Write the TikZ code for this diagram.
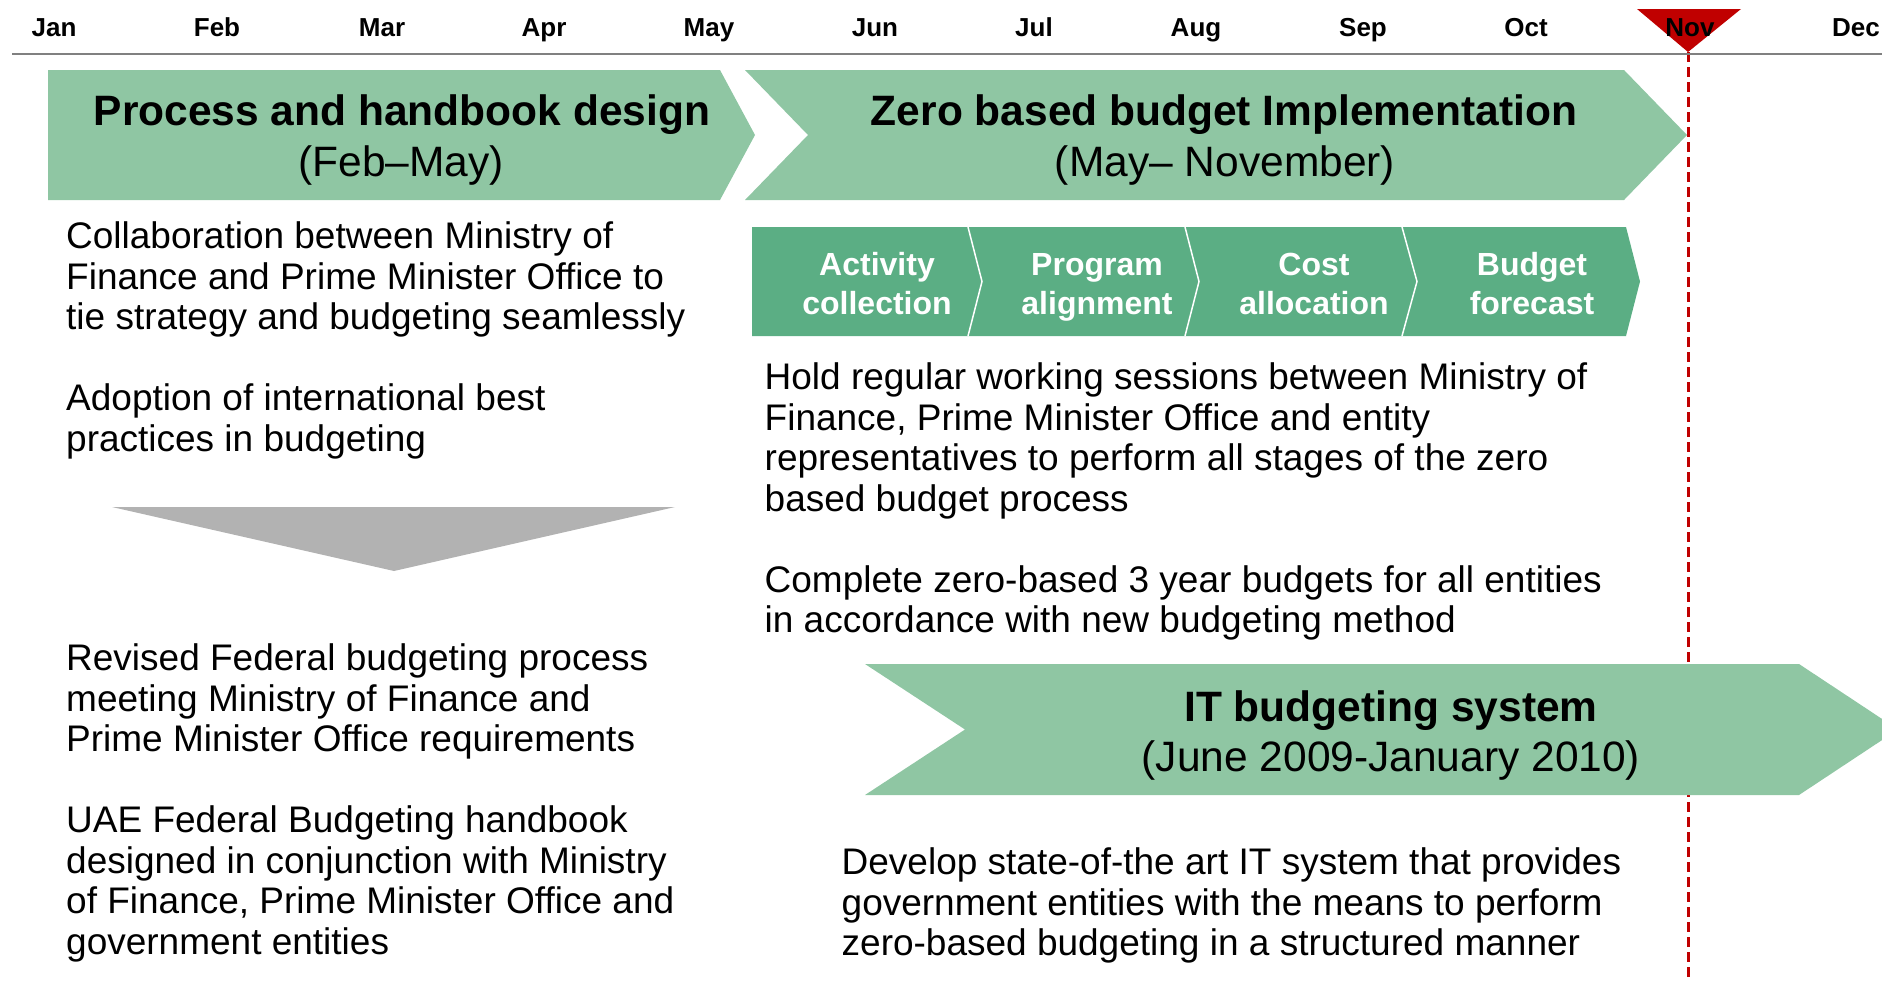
\documentclass[tikz,border=0pt]{standalone}
\usepackage{fontspec}
\setmainfont{Liberation Sans}
\definecolor{lgreen}{RGB}{143,198,163}
\definecolor{dgreen}{RGB}{91,174,132}
\definecolor{nred}{RGB}{192,0,0}
\definecolor{tgray}{RGB}{178,178,178}
\definecolor{lgray}{RGB}{128,128,128}
\newcommand\paralines[4]{\foreach \ln [count=\k from 0] in {#4}{\node[body] (#1\k) at (#2,{#3+40.5*\k}) {\ln};}}
\begin{document}
\begin{tikzpicture}[x=1pt,y=-1pt,
  month/.style={font=\bfseries\fontsize{26}{31}\selectfont, anchor=base, inner sep=0},
  body/.style={font=\fontsize{37}{40.5}\selectfont, anchor=base west, inner sep=0},
  head/.style={font=\bfseries\fontsize{42.5}{50}\selectfont, anchor=base, inner sep=0},
  sub/.style={font=\fontsize{42.5}{50}\selectfont, anchor=base, inner sep=0},
  steptxt/.style={font=\bfseries\fontsize{32}{38}\selectfont, text=white, anchor=base, inner sep=0},
  bar/.style={fill=lgreen, draw=none},
  divider/.style={draw=white, line width=1.5pt},
]
\useasboundingbox (0,0) rectangle (1882,980);
\clip (0,0) rectangle (1882,980);

% today marker line
\coordinate (nT) at (1688,52);
\coordinate (nB) at (1688,980);
\draw[nred, line width=3pt, dash pattern=on 10pt off 5pt] (nT) -- (nB);

% timeline axis
\coordinate (axL) at (12,54);
\coordinate (axR) at (1882,54);
\draw[lgray, line width=2pt] (axL) -- (axR);
\fill[nred] (1637,9) -- (1741,9) -- (nT) -- cycle;

\foreach \m/\x [count=\i] in {Jan/54,Feb/217,Mar/382,Apr/544,May/709,Jun/875,Jul/1034,Aug/1196,Sep/1363,Oct/1526,Nov/1690,Dec/1856}
  \node[month] (m\i) at (\x,36) {\m};

% phase chevrons
\fill[bar] (48,70) -- (720,70) -- (755,135) -- (720,200) -- (48,200) -- cycle;
\fill[bar] (745,70) -- (1624,70) -- (1687,135) -- (1624,200) -- (745,200) -- (808,135) -- cycle;
\fill[bar] (865,664) -- (1799,664) -- (1898,729.5) -- (1799,795) -- (865,795) -- (965,729.5) -- cycle;

\node[head] (p1a) at (402,125.5) {Process and handbook design};
\node[sub]  (p1b) at (401,176.5) {(Feb--May)};
\node[head] (p2a) at (1224,125.5) {Zero based budget Implementation};
\node[sub]  (p2b) at (1225,176.5) {(May-- November)};
\node[head] (p3a) at (1391,721) {IT budgeting system};
\node[sub]  (p3b) at (1391,771) {(June 2009-January 2010)};

% process steps
\fill[dgreen] (752,227) -- (1626,227) -- (1640,281.5) -- (1626,336) -- (752,336) -- cycle;
\foreach \a/\b in {968/982,1185/1199,1402/1417}
  \draw[divider] (\a,227) -- (\b,281.5) -- (\a,336);
\node[steptxt] (s1a) at (877,275.5) {Activity};
\node[steptxt] (s1b) at (877,314) {collection};
\node[steptxt] (s2a) at (1097,275.5) {Program};
\node[steptxt] (s2b) at (1097,314) {alignment};
\node[steptxt] (s3a) at (1314,275.5) {Cost};
\node[steptxt] (s3b) at (1314,314) {allocation};
\node[steptxt] (s4a) at (1532,275.5) {Budget};
\node[steptxt] (s4b) at (1532,314) {forecast};

% down arrow
\fill[tgray] (112,507) -- (675,507) -- (394,571) -- cycle;

% left texts
\paralines{la}{66}{248.6}{Collaboration between Ministry of,Finance and Prime Minister Office to,tie strategy and budgeting seamlessly}
\paralines{lb}{66}{410.6}{Adoption of international best,practices in budgeting}
\paralines{lc}{66}{670.6}{Revised Federal budgeting process,meeting Ministry of Finance and,Prime Minister Office requirements}
\paralines{ld}{66}{832.6}{UAE Federal Budgeting handbook,designed in conjunction with Ministry,{of Finance, Prime Minister Office and},government entities}

% right texts
\paralines{ra}{764.5}{389.6}{Hold regular working sessions between Ministry of,{Finance, Prime Minister Office and entity},representatives to perform all stages of the zero,based budget process}
\paralines{rb}{764.5}{592}{Complete zero-based 3 year budgets for all entities,in accordance with new budgeting method}
\paralines{rc}{841.5}{874.6}{Develop state-of-the art IT system that provides,government entities with the means to perform,zero-based budgeting in a structured manner}
\end{tikzpicture}
\end{document}
